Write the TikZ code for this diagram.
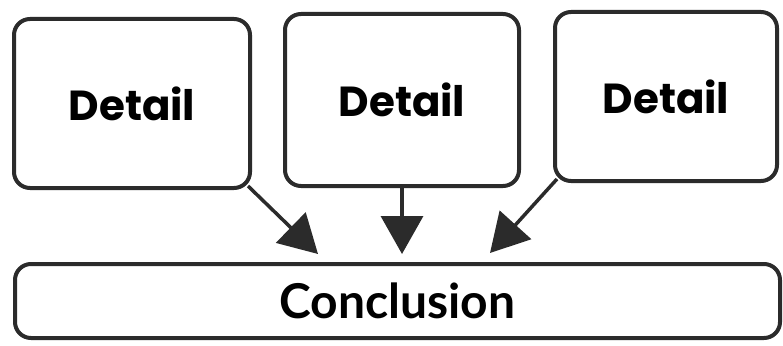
\documentclass[tikz,border=0pt]{standalone}
\usepackage{fontspec}
\setmainfont{Poppins}
\newfontfamily\conclfont{Lato}
\usetikzlibrary{arrows.meta}
\usetikzlibrary{positioning}
\definecolor{mdark}{rgb}{0.17, 0.17, 0.17}
\tikzset{detailbox/.style = {draw = mdark, line width = 4, rounded corners = 16,
    fill = white, font = \fontsize{42}{46}\selectfont\bfseries, text = black}}
\tikzset{bigarrow/.style = {draw = mdark, line width = 3.5,
    -{Triangle[length = 38, width = 42]}}}

\begin{document}
\begin{tikzpicture}[x = 1pt, y = -1pt]
    \useasboundingbox (0, 0) rectangle (783, 345);

    \node [detailbox, minimum width = 236, minimum height = 169] (d1) at (132, 103.5) {Detail};
    \node [detailbox, minimum width = 234, minimum height = 172] (d2) at (402, 100) {Detail};
    \node [detailbox, minimum width = 222, minimum height = 169] (d3) at (666, 96.5) {Detail};

    \node [detailbox, minimum width = 765, minimum height = 74,
      font = \fontsize{48}{52}\conclfont\bfseries] (concl) at (397.5, 301) {Conclusion};

    % tips stop short of the conclusion box
    \coordinate (t1) at (318, 254);
    \coordinate (t2) at (d2.south |- 0, 254);
    \coordinate (t3) at (490, 253);

    \draw [bigarrow] ([shift = {(-4, -4)}]d1.south east) -- (t1);
    \draw [bigarrow] (d2.south) -- (t2);
    \draw [bigarrow] ([shift = {(4, -4)}]d3.south west) -- (t3);
  \end{tikzpicture}
\end{document}
